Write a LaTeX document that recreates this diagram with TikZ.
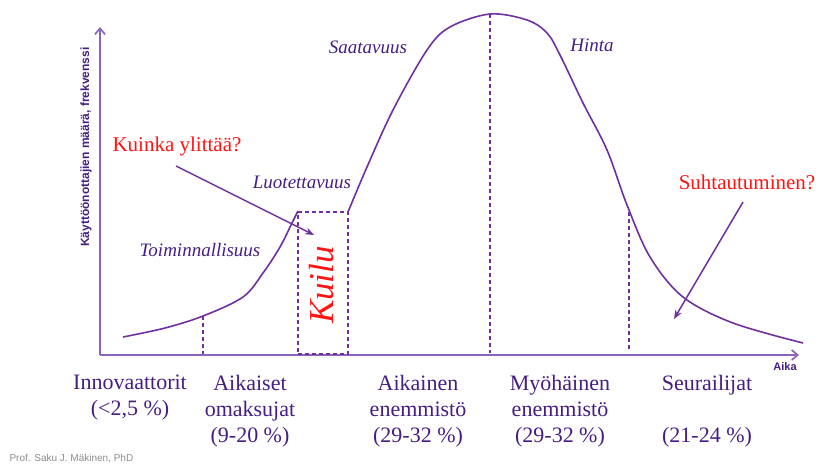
\documentclass[tikz,border=0pt]{standalone}
\usepackage{fontspec}
\setmainfont{Liberation Serif}
\newfontfamily\axisfont{Liberation Sans}
\definecolor{adpurple}{RGB}{112,48,160}
\definecolor{adaxis}{RGB}{140,100,190}
\definecolor{adtext}{RGB}{70,30,130}
\definecolor{adred}{RGB}{255,20,20}
\usetikzlibrary{arrows.meta}

\begin{document}
\begin{tikzpicture}[x=1pt,y=-1pt,
  curve/.style={adpurple, line width=1.6pt},
  guide/.style={adpurple, line width=1.3pt, dash pattern=on 4pt off 3pt},
  pointer/.style={-{Stealth[length=9pt,width=7pt]}, adpurple, line width=1.5pt},
  phase/.style={font=\itshape\fontsize{19}{22}\selectfont, text=adtext, inner sep=0pt},
  question/.style={font=\fontsize{21}{24}\selectfont, text=adred, inner sep=0pt},
  group/.style={font=\fontsize{22}{26}\selectfont, text=adtext, align=center, anchor=north, inner sep=0pt}]
  \useasboundingbox (0,0) rectangle (824,467);
  % Axes
  \coordinate (origin) at (100,355);
  \coordinate (ytop) at (100,27);
  \coordinate (xend) at (799,355);
  \draw[adaxis, line width=1.7pt, -{Straight Barb[length=6pt,width=10pt]}] (origin) -- (ytop);
  \draw[adaxis, line width=1.7pt, -{Straight Barb[length=6pt,width=10pt]}] (origin) -- (xend);
  \node[rotate=90, font=\axisfont\bfseries\fontsize{12}{14}\selectfont, text=adtext] (ylabel) at (86,147) {Käyttöönottajien määrä, frekvenssi};
  \node[font=\axisfont\bfseries\fontsize{11}{12}\selectfont, text=adtext] (xlabel) at (785,367) {Aika};
  % Adoption curve
  \draw[curve] plot[smooth, tension=0.55] coordinates {(123,337) (165,328) (203,316) (243,297) (263,273) (280,247) (292,223) (298,211)};
  \draw[curve] plot[smooth, tension=0.55] coordinates {(348,212) (367,167) (393,110) (427,50) (450,27) (490,14) (527,20) (547,33) (560,55) (583,103) (607,150) (627,205) (650,257) (683,297) (733,323) (803,343)};
  % Segment borders
  \draw[guide] (203,316) -- (203,354);
  \draw[guide] (490,14) -- (490,353);
  \draw[guide] (629,212) -- (629,350);
  \node[draw=adpurple, line width=1.3pt, dash pattern=on 4pt off 3pt, minimum width=50pt, minimum height=142pt, inner sep=0pt] (chasm) at (323,283) {};
  \node[rotate=90, font=\itshape\fontsize{35}{36}\selectfont, text=adred, inner sep=0pt] (kuilu) at (322,285) {Kuilu};
  % Phase labels
  \node[phase] (saatavuus) at (368,47) {Saatavuus};
  \node[phase] (hinta) at (592,45) {Hinta};
  \node[phase] (luotettavuus) at (302,182) {Luotettavuus};
  \node[phase] (toiminnallisuus) at (200,250) {Toiminnallisuus};
  % Questions
  \node[question] (cross) at (177,146) {Kuinka ylittää?};
  \node[question] (attitude) at (747,182) {Suhtautuminen?};
  \coordinate (crossstart) at (176,166);
  \coordinate (crossend) at (314,235);
  \coordinate (attstart) at (743,202);
  \coordinate (attend) at (674,319);
  \draw[pointer] (crossstart) -- (crossend);
  \draw[pointer] (attstart) -- (attend);
  % Adopter groups
  \node[group] (innov) at (130,375) {Innovaattorit\\(<2,5 \%)};
  \node[group] (early) at (250,375) {Aikaiset\\omaksujat\\(9-20 \%)};
  \node[group] (earlymaj) at (418,375) {Aikainen\\enemmistö\\(29-32 \%)};
  \node[group] (latemaj) at (560,375) {Myöhäinen\\enemmistö\\(29-32 \%)};
  \node[group] (laggards) at (707,375) {Seurailijat\\\mbox{}\\(21-24 \%)};
  % Footer
  \node[font=\axisfont\fontsize{10}{12}\selectfont, text=black!45, anchor=west] (credit) at (6,459) {Prof. Saku J. Mäkinen, PhD};
\end{tikzpicture}
\end{document}
